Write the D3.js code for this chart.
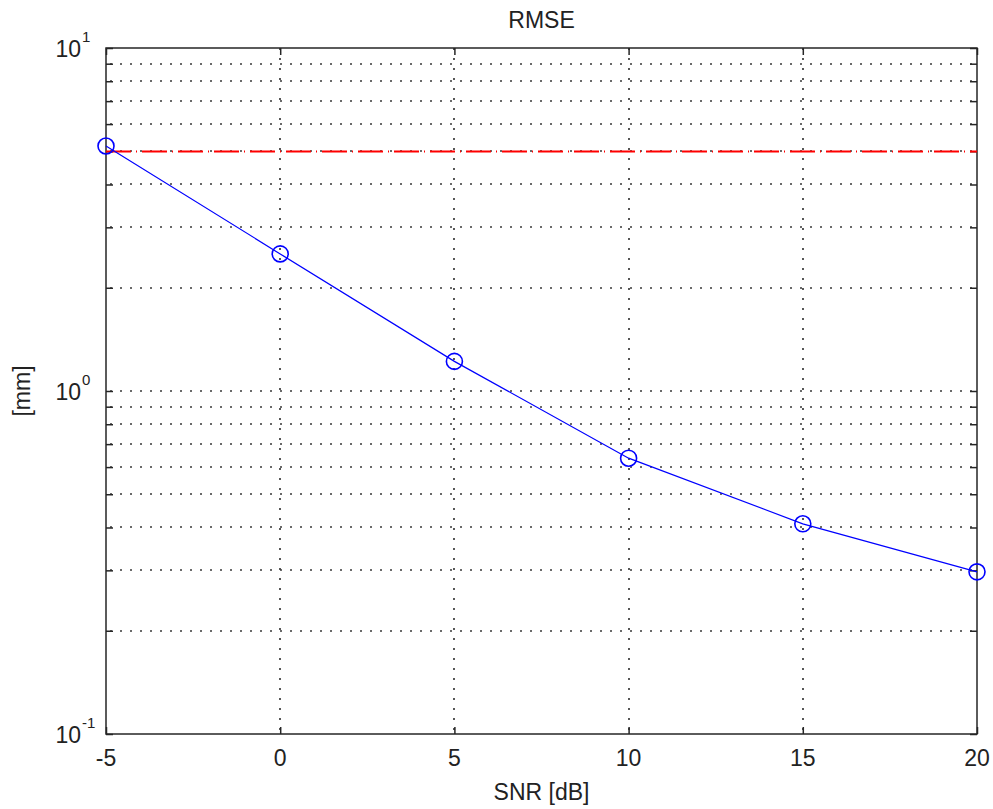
<!DOCTYPE html>
<html><head><meta charset="utf-8">
<script src="https://cdn.jsdelivr.net/npm/d3@7/dist/d3.min.js"></script>
<style>body{margin:0;background:#fff;} text{font-family:"Liberation Sans",Arial,sans-serif;}</style>
</head><body>
<script>
const snr = [-5, 0, 5, 10, 15, 20];
const rmse = [5.18, 2.51, 1.22, 0.637, 0.41, 0.297];
const reference = [5.0];
const xTicks = [-5, 0, 5, 10, 15, 20];
const yMajor = [0.1, 1, 10];
const yExp = ["-1", "0", "1"];

const W = 993, H = 809;
const L = 106, R = 977, T = 48, B = 734;
const svg = d3.select("body").append("svg").attr("width", W).attr("height", H);
const x = d3.scaleLinear().domain([-5, 20]).range([L, R]);
const y = d3.scaleLog().domain([0.1, 10]).range([B, T]);

const minor = [];
[0.1, 1].forEach(d => { for (let k = 2; k <= 9; k++) minor.push(d * k); });

const g = svg.append("g");
// grid
const gridStyle = sel => sel.attr("stroke", "#3a3a3a").attr("stroke-width", 1.7).attr("stroke-dasharray", "2,8");
g.selectAll(".hg").data(minor.concat([1])).enter().append("line")
  .attr("x1", L + 4).attr("x2", R).attr("y1", d => Math.round(y(d))).attr("y2", d => Math.round(y(d))).call(gridStyle);
g.selectAll(".vg").data(xTicks.slice(1, -1)).enter().append("line")
  .attr("y1", B - 4).attr("y2", T).attr("x1", d => Math.round(x(d))).attr("x2", d => Math.round(x(d))).call(gridStyle);

// axes via d3 axis
const tl = 7;
const axL = d3.axisLeft(y).tickValues(yMajor.concat(minor)).tickSize(-tl).tickFormat("");
const axR = d3.axisRight(y).tickValues(yMajor.concat(minor)).tickSize(-tl).tickFormat("");
const axB = d3.axisBottom(x).tickValues(xTicks).tickSize(-tl).tickFormat("");
const axT = d3.axisTop(x).tickValues(xTicks).tickSize(-tl).tickFormat("");
[[axL, `translate(${L},0)`], [axR, `translate(${R},0)`], [axB, `translate(0,${B})`], [axT, `translate(0,${T})`]].forEach(([a, tr]) => {
  const s = svg.append("g").attr("transform", tr).call(a);
  s.select(".domain").remove();
  s.selectAll("line").attr("stroke", "#262626").attr("stroke-width", 1.5);
});
svg.append("rect").attr("x", L).attr("y", T).attr("width", R - L).attr("height", B - T)
  .attr("fill", "none").attr("stroke", "#262626").attr("stroke-width", 1.5);

// tick labels
svg.selectAll(".xl").data(xTicks).enter().append("text")
  .attr("x", d => x(d)).attr("y", B + 32).attr("text-anchor", "middle")
  .attr("font-size", 23).attr("fill", "#222").text(d => d);
yMajor.forEach((v, i) => {
  svg.append("text").attr("x", 81).attr("y", y(v) + 9).attr("text-anchor", "end")
    .attr("font-size", 23).attr("fill", "#222").text("10");
  svg.append("text").attr("x", 82).attr("y", y(v) - 6).attr("text-anchor", "start")
    .attr("font-size", 15).attr("fill", "#222").text(yExp[i]);
});

// reference line
svg.selectAll(".ref").data(reference).enter().append("line")
  .attr("x1", L).attr("x2", R).attr("y1", d => Math.round(y(d)) + 0.5).attr("y2", d => Math.round(y(d)) + 0.5)
  .attr("stroke", "#ff0000").attr("stroke-width", 2).attr("stroke-dasharray", "25,5,1,5");

// data line
const pts = snr.map((s, i) => [s, rmse[i]]);
svg.append("path").datum(pts).attr("fill", "none").attr("stroke", "#0000ff").attr("stroke-width", 1.2)
  .attr("d", d3.line().x(d => x(d[0])).y(d => y(d[1])));
svg.selectAll(".pt").data(pts).enter().append("circle")
  .attr("cx", d => x(d[0])).attr("cy", d => y(d[1])).attr("r", 8)
  .attr("fill", "none").attr("stroke", "#0000ff").attr("stroke-width", 1.6);

// titles
svg.append("text").attr("x", (L + R) / 2).attr("y", 28).attr("text-anchor", "middle")
  .attr("font-size", 23).attr("fill", "#222").text("RMSE");
svg.append("text").attr("x", (L + R) / 2).attr("y", 800).attr("text-anchor", "middle")
  .attr("font-size", 23).attr("fill", "#222").text("SNR [dB]");
svg.append("text").attr("transform", `translate(30,${(T + B) / 2}) rotate(-90)`).attr("text-anchor", "middle")
  .attr("font-size", 23).attr("fill", "#222").text("[mm]");
</script>
</body></html>
